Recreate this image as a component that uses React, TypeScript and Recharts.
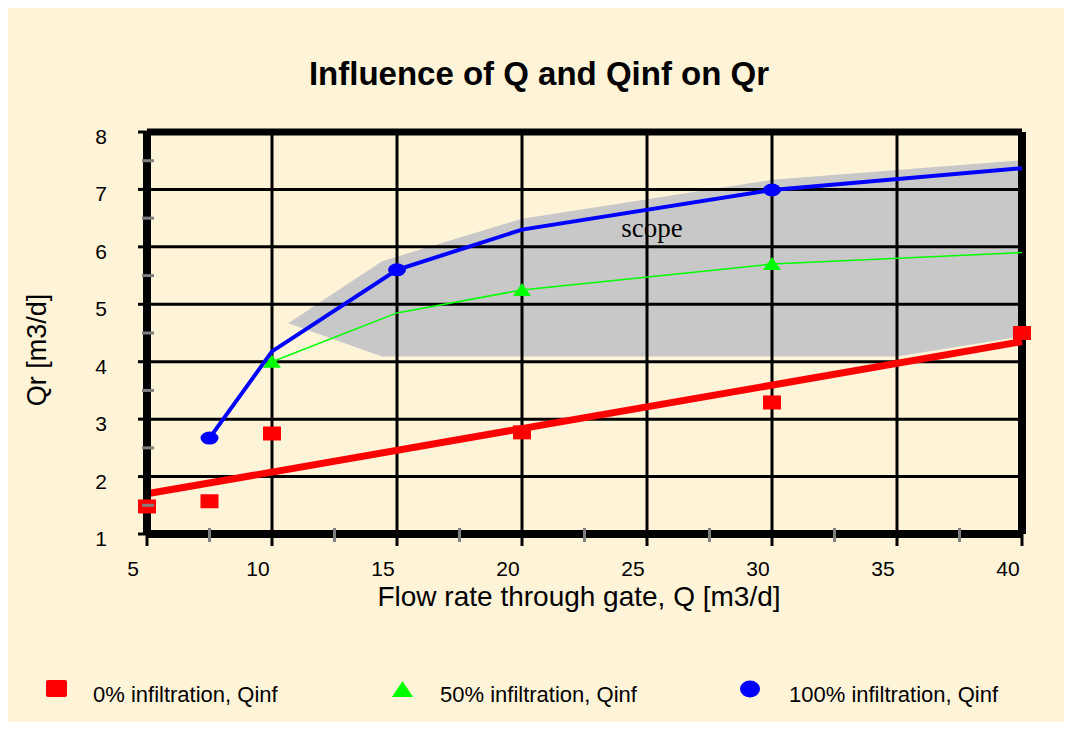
import React from "react";
import {
  ComposedChart,
  Area,
  Line,
  Scatter,
  XAxis,
  YAxis,
  ReferenceLine,
  ReferenceDot,
} from "recharts";

const FONT = "'Liberation Sans', Arial, sans-serif";

// axis ticks
const xMajor = [5, 10, 15, 20, 25, 30, 35, 40];
const xMinor = [7.5, 12.5, 17.5, 22.5, 27.5, 32.5, 37.5];
const yMajor = [1, 2, 3, 4, 5, 6, 7, 8];
const yMinor = [1.5, 2.5, 3.5, 4.5, 5.5, 6.5, 7.5];

// 0% infiltration (measured points + trend line)
const redX = [5, 7.5, 10, 20, 30, 40];
const redY = [1.48, 1.57, 2.75, 2.77, 3.29, 4.5];
const trendX = [5, 40];
const trendY = [1.7, 4.35];

// 50% infiltration
const greenX = [10, 15, 20, 30, 40];
const greenY = [4.0, 4.85, 5.25, 5.7, 5.9];
const greenMarkers = [10, 20, 30];

// 100% infiltration
const blueX = [7.5, 10, 15, 20, 30, 40];
const blueY = [2.67, 4.18, 5.6, 6.3, 6.99, 7.37];
const blueMarkers = [7.5, 15, 30];

// grey "scope" band
const scopeX = [10.65, 14.4, 20, 30, 35, 40];
const scopeLow = [4.67, 4.09, 4.09, 4.09, 4.09, 4.44];
const scopeHigh = [4.67, 5.75, 6.49, 7.17, 7.34, 7.51];

const legendItems = [
  { name: "0% infiltration, Qinf", color: "#FF0000" },
  { name: "50% infiltration, Qinf", color: "#00FF00" },
  { name: "100% infiltration, Qinf", color: "#0000FF" },
];

const red = redX.map((x, i) => ({ x, y: redY[i] }));
const trend = trendX.map((x, i) => ({ x, y: trendY[i] }));
const green = greenX.map((x, i) => ({ x, y: greenY[i] }));
const blue = blueX.map((x, i) => ({ x, y: blueY[i] }));
const scope = scopeX.map((x, i) => ({ x, range: [scopeLow[i], scopeHigh[i]] }));

const XTick = (props: any) => {
  const { x, y, payload } = props;
  const v = payload.value;
  if (xMinor.includes(v)) {
    return <line x1={x} x2={x} y1={y - 6} y2={y + 8} stroke="#808080" strokeWidth={3} />;
  }
  return (
    <g>
      <line x1={x} x2={x} y1={y} y2={y + 12} stroke="#000" strokeWidth={3} />
      <text x={x - 14} y={y + 42} textAnchor="middle" fontSize={21} fontFamily={FONT} fill="#000">
        {v}
      </text>
    </g>
  );
};

const YTick = (props: any) => {
  const { x, y, payload } = props;
  const v = payload.value;
  if (yMinor.includes(v)) {
    return <line x1={x - 5} x2={x + 7} y1={y} y2={y} stroke="#808080" strokeWidth={3} />;
  }
  return (
    <g>
      <line x1={x - 9} x2={x} y1={y} y2={y} stroke="#000" strokeWidth={3} />
      <text x={x - 40} y={y + 12} textAnchor="end" fontSize={21} fontFamily={FONT} fill="#000">
        {v}
      </text>
    </g>
  );
};

const square = (p: any) => (
  <rect x={p.cx - 9} y={p.cy - 7} width={18} height={14} fill="#FF0000" />
);

const greenDot = (p: any) =>
  greenMarkers.includes(p.payload.x) ? (
    <polygon
      key={p.index}
      points={`${p.cx},${p.cy - 7} ${p.cx - 9},${p.cy + 6} ${p.cx + 9},${p.cy + 6}`}
      fill="#00FF00"
    />
  ) : (
    <g key={p.index} />
  );

const blueDot = (p: any) =>
  blueMarkers.includes(p.payload.x) ? (
    <ellipse key={p.index} cx={p.cx} cy={p.cy} rx={9} ry={6.5} fill="#0000FF" />
  ) : (
    <g key={p.index} />
  );

export default function App() {
  return (
    <div style={{ position: "relative", width: 1057, height: 714, background: "#FFF3D8" }}>
      <svg
        width={1057}
        height={714}
        style={{ position: "absolute", left: 0, top: 0, pointerEvents: "none" }}
      >
        <text x={531} y={77} textAnchor="middle" fontSize={33} fontWeight="bold" fontFamily={FONT}>
          Influence of Q and Qinf on Qr
        </text>
        <text x={571} y={598} textAnchor="middle" fontSize={28} fontFamily={FONT}>
          Flow rate through gate, Q [m3/d]
        </text>
        <text
          x={38}
          y={342}
          textAnchor="middle"
          fontSize={27}
          fontFamily={FONT}
          transform="rotate(-90, 38, 342)"
        >
          Qr [m3/d]
        </text>

        {/* legend */}
        <rect x={38} y={672} width={21} height={17} rx={2} fill={legendItems[0].color} />
        <text x={85} y={694} fontSize={22} fontFamily={FONT}>
          {legendItems[0].name}
        </text>
        <polygon points="394.5,673 384,689 405,689" fill={legendItems[1].color} />
        <text x={432} y={694} fontSize={22} fontFamily={FONT}>
          {legendItems[1].name}
        </text>
        <ellipse cx={742} cy={681} rx={10} ry={8.5} fill={legendItems[2].color} />
        <text x={781} y={694} fontSize={22} fontFamily={FONT}>
          {legendItems[2].name}
        </text>
      </svg>

      <ComposedChart
        width={1057}
        height={714}
        margin={{ top: 124, right: 43, bottom: 138, left: 99 }}
        style={{ position: "absolute", left: 0, top: 0 }}
      >
        <XAxis
          type="number"
          dataKey="x"
          domain={[5, 40]}
          ticks={[...xMajor, ...xMinor].sort((a, b) => a - b)}
          interval={0}
          height={50}
          axisLine={{ stroke: "#000", strokeWidth: 8 }}
          tickLine={false}
          tickSize={0}
          tickMargin={0}
          tick={<XTick />}
        />
        <YAxis
          type="number"
          domain={[1, 8]}
          ticks={[...yMajor, ...yMinor].sort((a, b) => a - b)}
          interval={0}
          width={40}
          axisLine={{ stroke: "#000", strokeWidth: 8 }}
          tickLine={false}
          tickSize={0}
          tickMargin={0}
          tick={<YTick />}
        />

        <Area
          data={scope}
          dataKey="range"
          type="linear"
          fill="#C8C8C8"
          fillOpacity={1}
          stroke="none"
          isAnimationActive={false}
        />

        {xMajor.slice(1, -1).map((v) => (
          <ReferenceLine key={`vx${v}`} x={v} stroke="#000" strokeWidth={3} />
        ))}
        {yMajor.slice(1, -1).map((v) => (
          <ReferenceLine key={`hy${v}`} y={v} stroke="#000" strokeWidth={3} />
        ))}
        <ReferenceLine y={8} stroke="#000" strokeWidth={7} />
        <ReferenceLine x={40} stroke="#000" strokeWidth={8} />

        <ReferenceDot
          x={25.2}
          y={6.34}
          r={0}
          fill="none"
          stroke="none"
          label={{
            value: "scope",
            position: "center",
            fontSize: 27,
            fontFamily: "'Liberation Serif', 'Times New Roman', serif",
            fill: "#000",
          }}
        />

        <Line
          data={trend}
          dataKey="y"
          type="linear"
          stroke="#FF0000"
          strokeWidth={7}
          dot={false}
          isAnimationActive={false}
        />
        <Line
          data={blue}
          dataKey="y"
          type="linear"
          stroke="#0000FF"
          strokeWidth={4}
          dot={blueDot}
          isAnimationActive={false}
        />
        <Line
          data={green}
          dataKey="y"
          type="linear"
          stroke="#00FF00"
          strokeWidth={1.5}
          dot={greenDot}
          isAnimationActive={false}
        />
        <Scatter data={red} dataKey="y" shape={square} isAnimationActive={false} />
      </ComposedChart>
    </div>
  );
}
